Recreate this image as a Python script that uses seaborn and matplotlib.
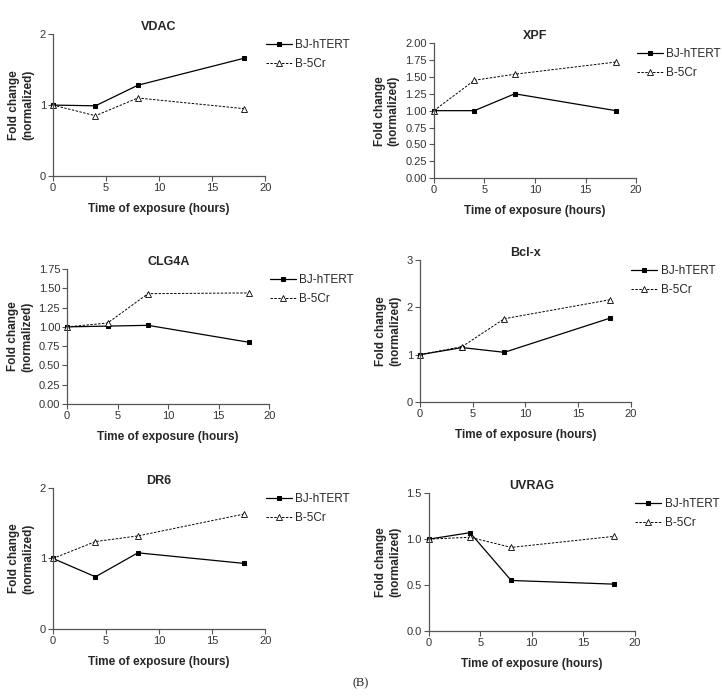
import pandas as pd
import numpy as np
import seaborn as sns
import matplotlib.pyplot as plt

# Data
hours = [0, 4, 8, 18]
series_names = ["BJ-hTERT", "B-5Cr"]

titles = ["VDAC", "XPF", "CLG4A", "Bcl-x", "DR6", "UVRAG"]

vdac_bj = [1.0, 0.99, 1.28, 1.66]
vdac_b5 = [1.0, 0.85, 1.10, 0.95]
xpf_bj = [1.0, 1.0, 1.25, 1.0]
xpf_b5 = [1.0, 1.45, 1.54, 1.72]
clg4a_bj = [1.0, 1.01, 1.02, 0.80]
clg4a_b5 = [1.0, 1.05, 1.43, 1.44]
bclx_bj = [1.0, 1.15, 1.05, 1.77]
bclx_b5 = [1.0, 1.17, 1.76, 2.16]
dr6_bj = [1.0, 0.74, 1.08, 0.93]
dr6_b5 = [1.0, 1.24, 1.32, 1.63]
uvrag_bj = [1.0, 1.07, 0.55, 0.51]
uvrag_b5 = [1.0, 1.02, 0.91, 1.03]

panel_values = [
    (vdac_bj, vdac_b5),
    (xpf_bj, xpf_b5),
    (clg4a_bj, clg4a_b5),
    (bclx_bj, bclx_b5),
    (dr6_bj, dr6_b5),
    (uvrag_bj, uvrag_b5),
]

# y tick setup per panel: (ticks, format)
yticks = [
    ([0, 1, 2], "{:.0f}"),
    (np.arange(0, 2.01, 0.25), "{:.2f}"),
    (np.arange(0, 1.76, 0.25), "{:.2f}"),
    ([0, 1, 2, 3], "{:.0f}"),
    ([0, 1, 2], "{:.0f}"),
    (np.arange(0, 1.51, 0.5), "{:.1f}"),
]
xticks = [0, 5, 10, 15, 20]

sns.set_style("ticks")
plt.rcParams['font.family'] = ['Liberation Sans', 'DejaVu Sans']

fig = plt.figure(figsize=(7.22, 6.96), dpi=100)

# axes rectangles [left, bottom, width, height] in figure fractions
rects = [
    [0.0734, 0.747, 0.294, 0.204],
    [0.601, 0.744, 0.280, 0.194],
    [0.093, 0.4195, 0.280, 0.194],
    [0.5817, 0.4224, 0.292, 0.204],
    [0.0734, 0.0963, 0.294, 0.2026],
    [0.594, 0.0934, 0.285, 0.198],
]

spine_col = "#555555"

for i, title in enumerate(titles):
    ax = fig.add_axes(rects[i])
    bj, b5 = panel_values[i]
    df = pd.DataFrame({"time": hours * 2,
                       "fold": list(bj) + list(b5),
                       "line": [series_names[0]] * 4 + [series_names[1]] * 4})

    sns.lineplot(data=df[df["line"] == "BJ-hTERT"], x="time", y="fold", ax=ax,
                 color="black", lw=0.9, marker="s", markersize=3,
                 markerfacecolor="black", markeredgecolor="black",
                 label="BJ-hTERT", clip_on=False)
    sns.lineplot(data=df[df["line"] == "B-5Cr"], x="time", y="fold", ax=ax,
                 color="black", lw=0.7, linestyle=(0, (2.5, 1.5)), marker="^",
                 markersize=4, markerfacecolor="white", markeredgecolor="black",
                 markeredgewidth=0.6, label="B-5Cr", clip_on=False)

    ticks, fmt = yticks[i]
    ax.set_xlim(0, 20)
    ax.set_ylim(0, ticks[-1])
    ax.set_xticks(xticks)
    ax.set_yticks(ticks)
    ax.set_yticklabels([fmt.format(t) for t in ticks])

    for side in ["top", "right"]:
        ax.spines[side].set_visible(False)
    for side in ["left", "bottom"]:
        ax.spines[side].set_color(spine_col)
        ax.spines[side].set_linewidth(0.9)
    ax.tick_params(axis="both", labelsize=8, colors=spine_col, labelcolor="#333333",
                   length=3.5, width=0.8, pad=1.5)

    ax.set_title(title, fontsize=9, fontweight="bold", pad=3)
    ax.set_xlabel("Time of exposure (hours)", fontsize=8.5, fontweight="bold", labelpad=7)
    ax.set_ylabel("Fold change\n(normalized)", fontsize=8.5, fontweight="bold", labelpad=4)

    leg = ax.legend(loc="upper left", bbox_to_anchor=(0.98, 1.0), frameon=False,
                    fontsize=8.5, handlelength=2.2, handletextpad=0.3, labelspacing=0.6,
                    borderaxespad=0.0)

fig.text(0.5, 0.018, "(B)", ha="center", va="center", fontsize=9,
         family=["Liberation Serif", "DejaVu Serif"])

fig.savefig("out.png", dpi=100)
